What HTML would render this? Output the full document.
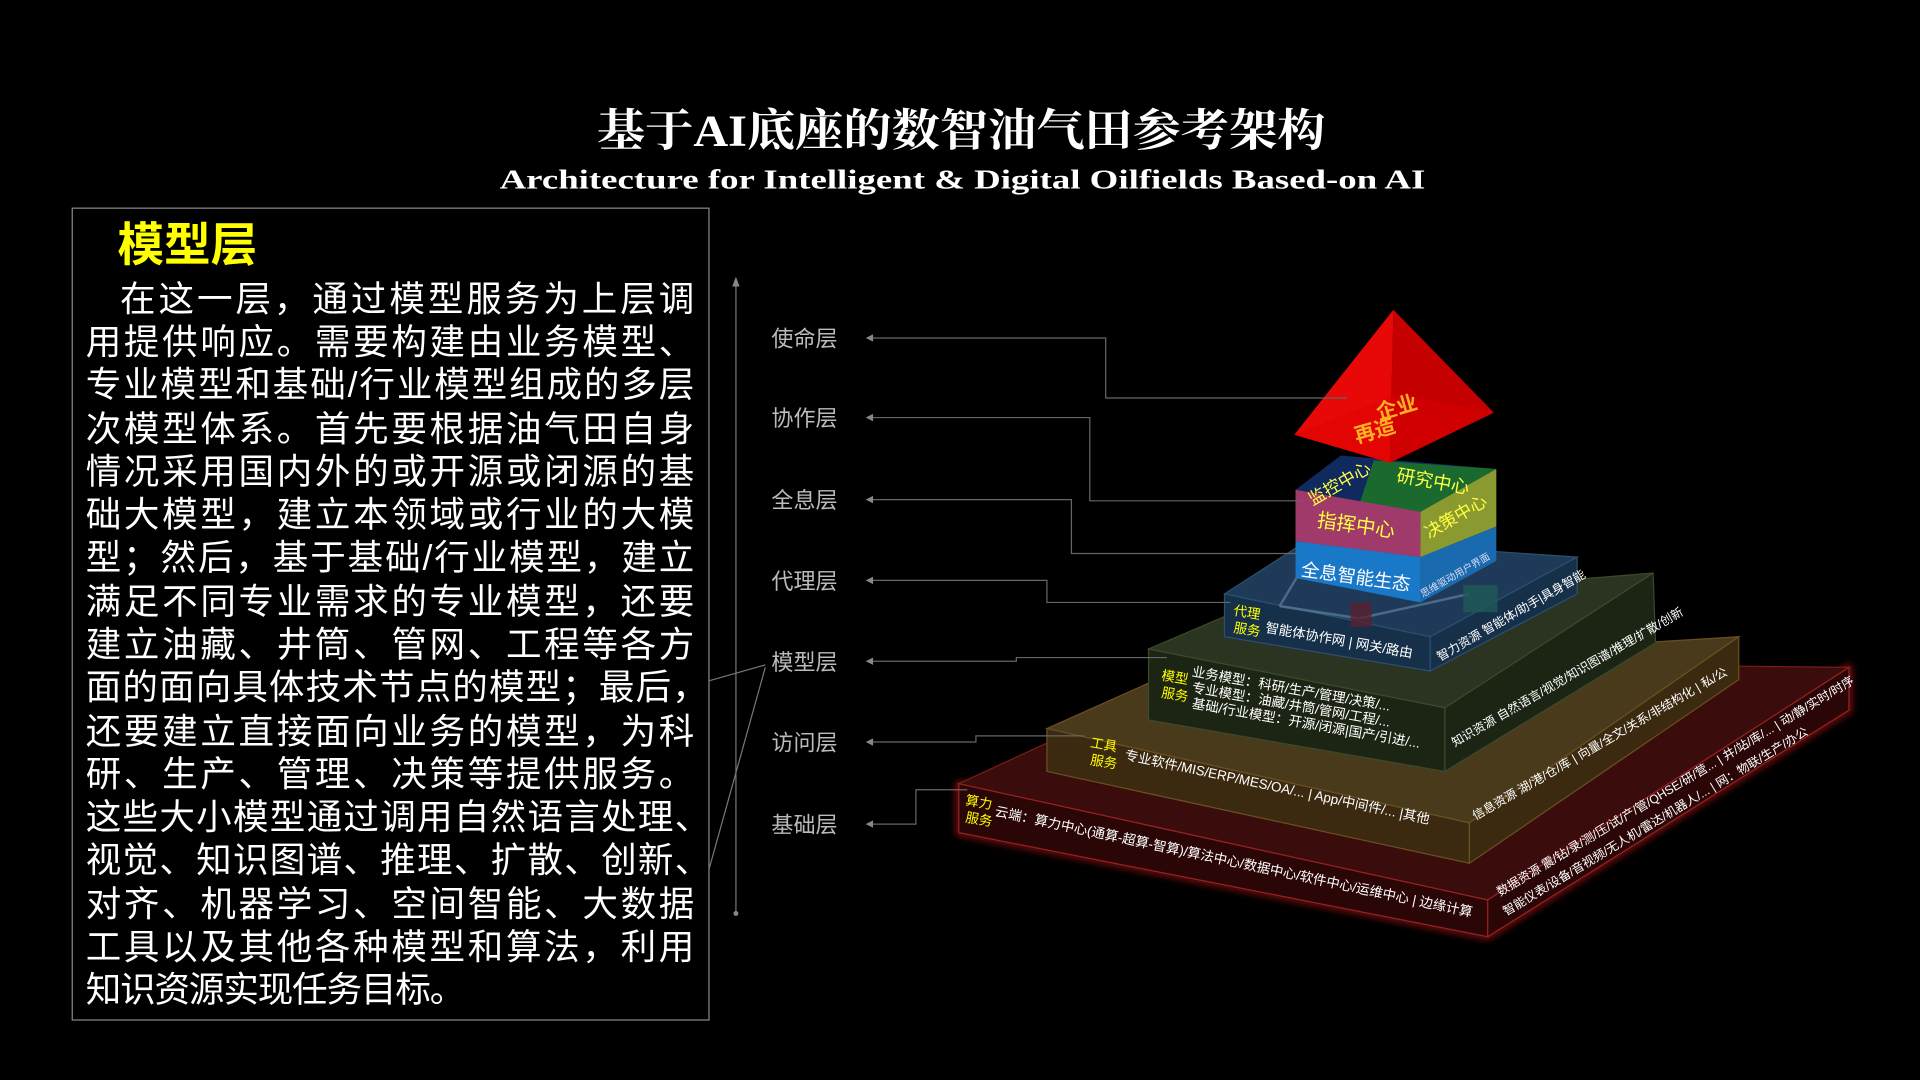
<!DOCTYPE html>
<html><head><meta charset="utf-8"><style>
html,body{margin:0;padding:0;background:#000;width:1920px;height:1080px;overflow:hidden}
svg{display:block}
.cj{font-family:"Liberation Sans","Noto Sans CJK SC",sans-serif}
</style></head><body>
<svg width="1920" height="1080" viewBox="0 0 1568 882" xmlns="http://www.w3.org/2000/svg" class="cj">
<defs>
<filter id="glow" x="-10%" y="-10%" width="120%" height="120%"><feGaussianBlur stdDeviation="3"/></filter>
</defs>
<rect width="1568" height="882" fill="#000"/>
<text x="785" y="119" text-anchor="middle" fill="#fff" font-size="36" font-weight="bold" font-family="'Liberation Serif','Noto Serif CJK SC',serif" textLength="595" lengthAdjust="spacingAndGlyphs">基于AI底座的数智油气田参考架构</text>
<text x="786" y="154" text-anchor="middle" fill="#fff" font-size="22" font-weight="bold" font-family="'Liberation Serif',serif" textLength="756" lengthAdjust="spacingAndGlyphs">Architecture for Intelligent &amp; Digital Oilfields Based-on AI</text>

<rect x="59" y="170" width="520" height="663" fill="none" stroke="#888" stroke-width="1"/>
<text x="96" y="213" fill="#ffff00" font-size="38" font-weight="bold">模型层</text>
<g fill="#fff" font-size="29" lengthAdjust="spacingAndGlyphs">
<text x="98" y="254" textLength="469">在这一层，通过模型服务为上层调</text>
<text x="70" y="289" textLength="497">用提供响应。需要构建由业务模型、</text>
<text x="70" y="324" textLength="497">专业模型和基础/行业模型组成的多层</text>
<text x="70" y="360" textLength="497">次模型体系。首先要根据油气田自身</text>
<text x="70" y="395" textLength="497">情况采用国内外的或开源或闭源的基</text>
<text x="70" y="430" textLength="497">础大模型，建立本领域或行业的大模</text>
<text x="70" y="465" textLength="497">型；然后，基于基础/行业模型，建立</text>
<text x="70" y="501" textLength="497">满足不同专业需求的专业模型，还要</text>
<text x="70" y="536" textLength="497">建立油藏、井筒、管网、工程等各方</text>
<text x="70" y="571" textLength="508">面的面向具体技术节点的模型；最后，</text>
<text x="70" y="607" textLength="497">还要建立直接面向业务的模型，为科</text>
<text x="70" y="642" textLength="497">研、生产、管理、决策等提供服务。</text>
<text x="70" y="677" textLength="510">这些大小模型通过调用自然语言处理、</text>
<text x="70" y="712" textLength="510">视觉、知识图谱、推理、扩散、创新、</text>
<text x="70" y="748" textLength="497">对齐、机器学习、空间智能、大数据</text>
<text x="70" y="783" textLength="497">工具以及其他各种模型和算法，利用</text>
<text x="70" y="818" textLength="310">知识资源实现任务目标。</text>
</g>
<g stroke="#777" stroke-width="1" fill="none">
<line x1="579" y1="556" x2="625" y2="543"/>
<line x1="579" y1="710" x2="625" y2="545"/>
<line x1="601" y1="230" x2="601" y2="746"/>
</g>
<polygon points="601,226 598,234 604,234" fill="#888"/>
<circle cx="601" cy="746" r="2" fill="#888"/>
<g fill="#bbb" font-size="18">
<text x="630" y="283">使命层</text><text x="630" y="348">协作层</text><text x="630" y="415">全息层</text>
<text x="630" y="481">代理层</text><text x="630" y="547">模型层</text><text x="630" y="613">访问层</text><text x="630" y="680">基础层</text>
</g>

<g>
<polygon points="783,640 1215,735 1510,545 1510,580 1215,765 783,680" fill="none" stroke="#ff2020" stroke-width="4" opacity="0.6" filter="url(#glow)"/>
<polygon points="783,640 1000,540 1510,545 1215,735" fill="#3a0c0c" stroke="#7a1a1a"/>
<polygon points="783,640 1215,735 1215,765 783,680" fill="#2a0606" stroke="#9a2020"/>
<polygon points="1215,735 1510,545 1510,580 1215,765" fill="#2a0606" stroke="#9a2020"/>
</g>
<polygon points="855,595 960,548 1420,520 1200,672" fill="#4a3a1c" stroke="#6a5020"/>
<polygon points="855,595 1200,672 1200,705 855,630" fill="#3c2a10" stroke="#6a5020"/>
<polygon points="1200,672 1420,520 1420,555 1200,705" fill="#3c2a10" stroke="#6a5020"/>
<polygon points="938,530 1020,495 1350,468 1180,578" fill="#2a3420" stroke="#3a4a2a"/>
<polygon points="938,530 1180,578 1180,630 938,588" fill="#1c2414" stroke="#3a4a2a"/>
<polygon points="1180,578 1350,468 1352,525 1180,630" fill="#1c2414" stroke="#3a4a2a"/>
<polygon points="1000,485 1070,440 1288,455 1168,520" fill="#1e3a58" stroke="#2a5070"/>
<polygon points="1000,485 1168,520 1168,548 1000,520" fill="#16304a" stroke="#2a5070"/>
<polygon points="1168,520 1288,455 1288,485 1168,548" fill="#16304a" stroke="#2a5070"/>
<g stroke="#6a8aa8" stroke-width="2" opacity="0.6"><line x1="1045" y1="495" x2="1110" y2="505"/><line x1="1110" y1="505" x2="1200" y2="485"/><line x1="1060" y1="470" x2="1045" y2="495"/></g>
<rect x="1103" y="492" width="17" height="20" fill="#5a2030" opacity="0.8"/>
<rect x="1195" y="478" width="28" height="22" fill="#1e5a58" opacity="0.8"/>
<polygon points="1058,400 1095,372 1222,383 1160,418" fill="#102a60"/>
<polygon points="1122,376 1222,383 1160,418 1110,412" fill="#1a6a30"/>
<polygon points="1058,400 1160,418 1160,455 1058,442" fill="#a03a6a"/>
<polygon points="1058,442 1160,455 1160,492 1058,472" fill="#1a78c8"/>
<polygon points="1160,418 1222,383 1222,430 1160,455" fill="#8a9a30"/>
<polygon points="1160,455 1222,430 1222,458 1160,492" fill="#1a6ab0"/>
<polygon points="1138,253 1057,355 1135,378" fill="#e80808"/>
<polygon points="1138,253 1135,378 1220,337" fill="#c40000"/>
<polygon points="1057,355 1140,322 1220,337 1135,378" fill="#d00" opacity="0.5"/>
<text transform="translate(1126,343) rotate(-16)" fill="#ffb020" font-size="17" font-weight="bold">企业</text>
<text transform="translate(1108,362) rotate(-16)" fill="#ffb020" font-size="17" font-weight="bold">再造</text>
<text transform="translate(1072,413) rotate(-30)" fill="#ffff40" font-size="14">监控中心</text>
<text transform="translate(1140,393) rotate(10)" fill="#ffff40" font-size="15">研究中心</text>
<text transform="translate(1075,430) rotate(8)" fill="#ffff40" font-size="16">指挥中心</text>
<text transform="translate(1167,440) rotate(-30)" fill="#ffff40" font-size="14">决策中心</text>
<text transform="translate(1062,470) rotate(8)" fill="#fff" font-size="15">全息智能生态</text>
<text transform="translate(1162,488) rotate(-30)" fill="#dde" font-size="8">思维驱动用户界面</text>
<g font-size="11">
<text transform="translate(1007,502) rotate(10)" fill="#ff0">代理</text>
<text transform="translate(1007,516) rotate(10)" fill="#ff0">服务</text>
<text transform="translate(1033,516) rotate(10)" fill="#fff">智能体协作网 | 网关/路由</text>
<text transform="translate(1176,540) rotate(-30)" fill="#fff" font-size="10">智力资源 智能体/助手|具身智能</text>
<text transform="translate(948,555) rotate(10)" fill="#ff0">模型</text>
<text transform="translate(948,569) rotate(10)" fill="#ff0">服务</text>
<text transform="translate(973,552) rotate(10)" fill="#fff">业务模型：科研/生产/管理/决策/...</text>
<text transform="translate(973,565) rotate(10)" fill="#fff">专业模型：油藏/井筒/管网/工程/...</text>
<text transform="translate(973,578) rotate(10)" fill="#fff">基础/行业模型：开源/闭源|国产/引进/...</text>
<text transform="translate(1188,610) rotate(-30)" fill="#fff" font-size="10">知识资源 自然语言/视觉/知识图谱/推理/扩散/创新</text>
<text transform="translate(890,610) rotate(10)" fill="#ff0">工具</text>
<text transform="translate(890,624) rotate(10)" fill="#ff0">服务</text>
<text transform="translate(918,620) rotate(12)" fill="#fff">专业软件/MIS/ERP/MES/OA/... | App/中间件/... |其他</text>
<text transform="translate(1205,670) rotate(-30)" fill="#fff" font-size="10">信息资源 湖/港/仓/库 | 向量/全文/关系/非结构化 | 私/公</text>
<text transform="translate(788,657) rotate(10)" fill="#ff0">算力</text>
<text transform="translate(788,671) rotate(10)" fill="#ff0">服务</text>
<text transform="translate(812,666) rotate(12)" fill="#fff">云端：算力中心(通算-超算-智算)/算法中心/数据中心/软件中心/运维中心 | 边缘计算</text>
<text transform="translate(1225,732) rotate(-31)" fill="#fff" font-size="10">数据资源 震/钻/录/测/压/试/产/管/QHSE/研/营... | 井/站/库/... | 动/静/实时/时序</text>
<text transform="translate(1230,748) rotate(-31)" fill="#fff" font-size="10">智能仪表/设备/音视频/无人机/雷达/机器人/... | 网：物联/生产/办公</text>
</g>
<g stroke="#666" stroke-width="1" fill="none">
<polyline points="708,276 903,276 903,325 1100,325"/>
<polyline points="708,341 890,341 890,409 1063,409"/>
<polyline points="708,408 875,408 875,452 1060,452"/>
<polyline points="708,474 855,474 855,492 1005,492"/>
<polyline points="708,540 830,540 830,537 953,537"/>
<polyline points="708,606 797,606 797,601 885,601"/>
<polyline points="708,673 748,673 748,645 790,645"/>
</g>
<g fill="#888">
<polygon points="707,276 713,273 713,279"/><polygon points="707,341 713,338 713,344"/><polygon points="707,408 713,405 713,411"/>
<polygon points="707,474 713,471 713,477"/><polygon points="707,540 713,537 713,543"/><polygon points="707,606 713,603 713,609"/>
<polygon points="707,673 713,670 713,676"/>
</g>
</svg>
</body></html>
